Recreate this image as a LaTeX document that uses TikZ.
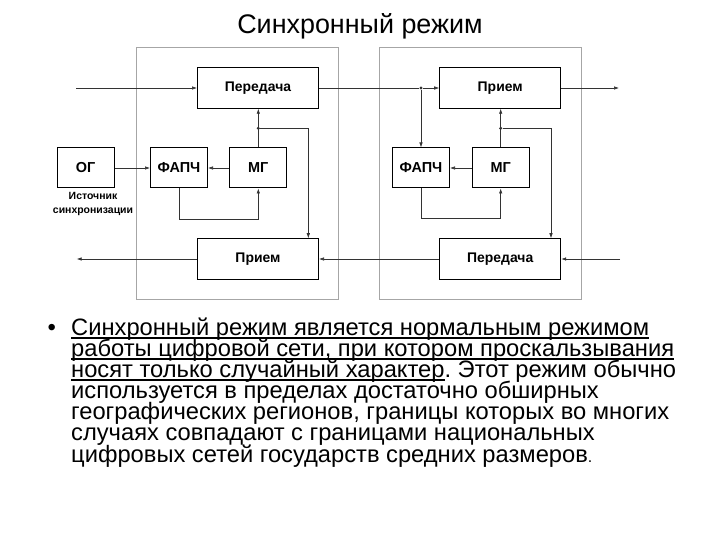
\documentclass[tikz,border=0pt]{standalone}
\usepackage{fontspec}
\setmainfont{Liberation Sans}
\usetikzlibrary{arrows.meta}

\newlength\ullen
\newcommand\ulin[1]{\settowidth\ullen{#1}\rlap{\rule[-3.3bp]{\ullen}{1.4bp}}#1}
\newcommand\bodyfont{\fontsize{23.8}{21.2}\selectfont\setlength\lineskiplimit{-100bp}\frenchspacing}

\begin{document}
\begin{tikzpicture}
	[
		x = 1bp, y = -1bp,
		frame/.style = {draw=gray!70, line width=0.8bp, minimum width=202bp, minimum height=252bp},
		wide/.style = {draw, line width=1bp, minimum width=121bp, minimum height=40.5bp, font=\bfseries\fontsize{14}{16}\selectfont},
		small/.style = {draw, line width=1bp, minimum width=57bp, minimum height=40bp, font=\bfseries\fontsize{14.5}{16}\selectfont},
		link/.style = {draw=black!80, line width=0.6bp},
		sig/.style = {link, -{Latex[length=5bp,width=3.5bp]}},
		dot/.style = {circle, fill=black!80, inner sep=0pt, minimum size=3.4bp}]
	\useasboundingbox (0,0) rectangle (720,540);

	\node[font=\fontsize{27}{30}\selectfont, anchor=base] (title) at (360,33.3) {Синхронный режим};

	\node[frame] (frameL) at (237.8,173.3) {};
	\node[frame] (frameR) at (480.2,173.3) {};

	\node[wide] (perL) at (258,88) {Передача};
	\node[wide] (priemL) at (258,259) {Прием};
	\node[small] (og) at (85.7,168) {ОГ};
	\node[small] (fapchL) at (179,168) {ФАПЧ};
	\node[small] (mgL) at (258.3,168) {МГ};
	\node[font=\bfseries\fontsize{10.5}{15}\selectfont, align=center] (src) at (93,204) {Источник\\синхронизации};

	\node[wide] (priemR) at (500.2,88) {Прием};
	\node[wide] (perR) at (500.2,259) {Передача};
	\node[small] (fapchR) at (421,168) {ФАПЧ};
	\node[small] (mgR) at (500.7,168) {МГ};

	\coordinate (inL) at (76,88);
	\coordinate (outR) at (619,88);
	\coordinate (inR) at (620,259);
	\coordinate (outL) at (76.7,259);
	\node[dot] (dotR) at (fapchR.north |- perL.east) {};
	\node[dot] (dotL) at (258.3,128.3) {};
	\node[dot] (dotRm) at (500.7,128.3) {};

	% upper line
	\draw[sig] (inL) -- (perL.west);
	\draw[link] (perL.east) -- (dotR);
	\draw[sig] (dotR) -- (priemR.west);
	\draw[sig] (dotR) -- (fapchR.north);
	\draw[sig] (priemR.east) -- (outR);

	% lower line
	\draw[sig] (inR) -- (perR.east);
	\draw[sig] (perR.west) -- (priemL.east);
	\draw[sig] (priemL.west) -- (outL);

	% left station
	\draw[sig] (og) -- (fapchL);
	\draw[sig] (mgL) -- (fapchL);
	\draw[sig] (mgL.north) -- (mgL.north |- perL.south);
	\draw[sig] (dotL) -| ([xshift=50.3bp]priemL.north);
	\draw[sig] (fapchL.south) -- ++(0,31) -| (mgL.south);

	% right station
	\draw[sig] (mgR) -- (fapchR);
	\draw[sig] (mgR.north) -- (mgR.north |- priemR.south);
	\draw[sig] (dotRm) -| ([xshift=50.8bp]perR.north);
	\draw[sig] (fapchR.south) -- ++(0,30.3) -| (mgR.south);

	\node[font=\fontsize{24}{24}\selectfont, anchor=base] (bullet) at (51.7,335) {•};
	\node[anchor=base west, align=left, inner sep=0pt, font=\bodyfont] (body) at (71,462)
		{\ulin{Синхронный режим является нормальным режимом}\\
		\ulin{работы цифровой сети, при котором проскальзывания}\\
		\ulin{носят только случайный характер}. Этот режим обычно\\
		используется в пределах достаточно обширных\\
		географических регионов, границы которых во многих\\
		случаях совпадают с границами национальных\\
		цифровых сетей государств средних размеров{\fontsize{16}{16}\selectfont.}};
\end{tikzpicture}
\end{document}
